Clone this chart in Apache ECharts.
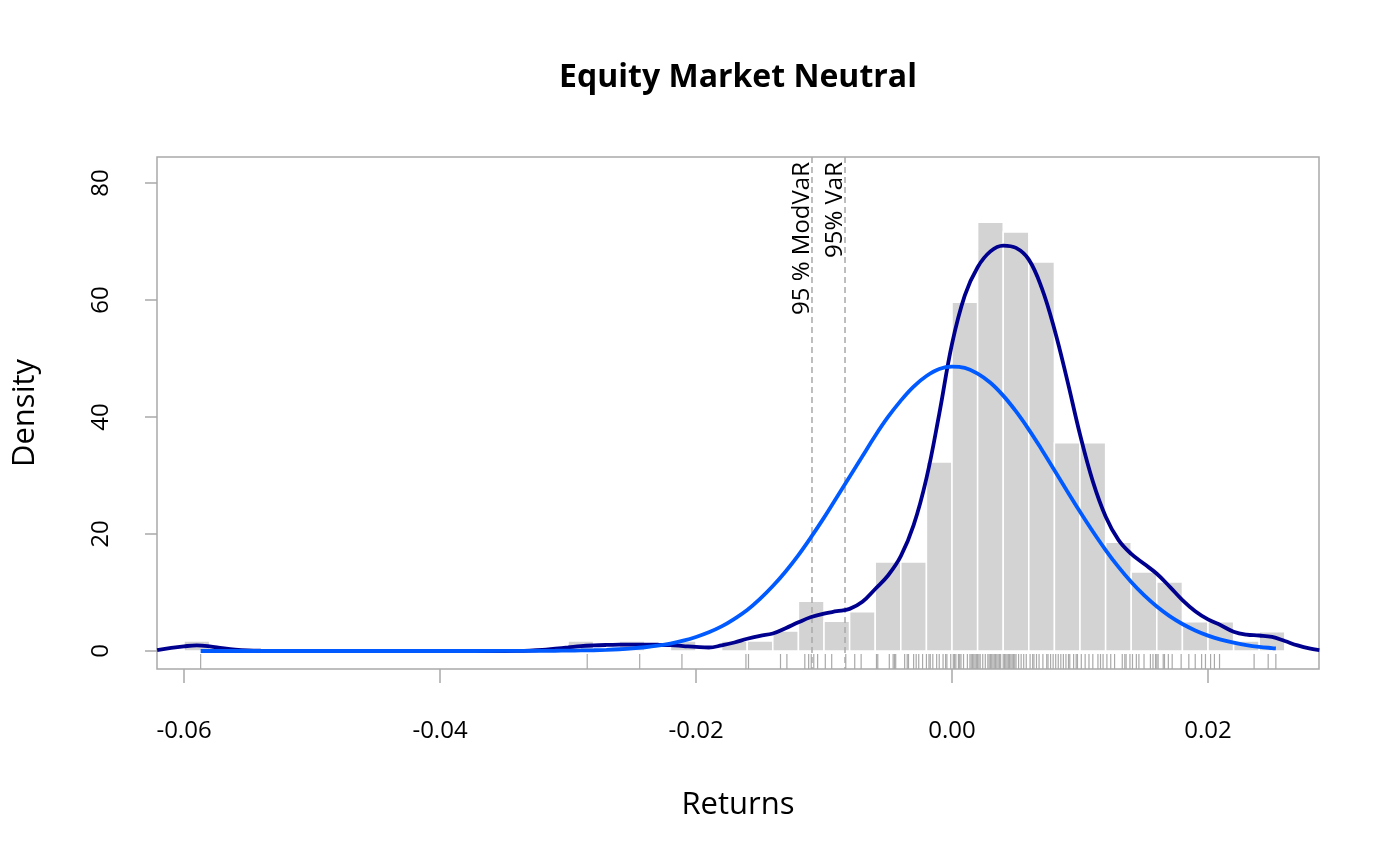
<!DOCTYPE html>
<html>
<head>
<meta charset="utf-8">
<script src="https://cdn.jsdelivr.net/npm/echarts@6/dist/echarts.min.js"></script>
<style>
 html,body{margin:0;padding:0;background:#fff;}
 #main{width:1400px;height:866px;}
</style>
</head>
<body>
<div id="main"></div>
<script type="text/javascript">
// histogram: left edge of each bin (width 0.002) and its density
var binLeft = [-0.060, -0.030, -0.026, -0.022, -0.018, -0.016, -0.014, -0.012, -0.010, -0.008,
               -0.006, -0.004, -0.002, 0.000, 0.002, 0.004, 0.006, 0.008, 0.010, 0.012,
               0.014, 0.016, 0.018, 0.020, 0.022, 0.024];
var binDensity = [1.71, 1.71, 1.71, 1.71, 1.71, 1.71, 3.4, 8.5, 5.1, 6.7,
                  15.2, 15.2, 32.3, 59.6, 73.3, 71.6, 66.5, 35.6, 35.6, 18.6,
                  13.5, 11.8, 5.0, 5.0, 1.7, 3.3];
var binWidth = 0.002;

// kernel density (dark blue)
var kdX = [-0.0621, -0.061, -0.060, -0.059, -0.058, -0.057, -0.056, -0.055, -0.054, -0.052,
           -0.050, -0.040, -0.035, -0.034, -0.033, -0.032, -0.031, -0.030, -0.029, -0.028,
           -0.027, -0.026, -0.025, -0.024, -0.023, -0.022, -0.021, -0.020, -0.019, -0.018,
           -0.017, -0.016, -0.015, -0.014, -0.013, -0.012, -0.011, -0.010, -0.009, -0.008,
           -0.007, -0.006, -0.005, -0.004, -0.003, -0.002, -0.001, 0.000, 0.001, 0.002,
           0.003, 0.004, 0.005, 0.006, 0.007, 0.008, 0.009, 0.010, 0.011, 0.012,
           0.013, 0.014, 0.015, 0.016, 0.017, 0.018, 0.019, 0.020, 0.021, 0.022,
           0.023, 0.024, 0.025, 0.026, 0.027, 0.028, 0.0287];
var kdY = [0.17, 0.55, 0.8, 0.95, 0.8, 0.5, 0.25, 0.1, 0.04, 0.01,
           0.0, 0.0, 0.0, 0.02, 0.08, 0.2, 0.4, 0.6, 0.82, 0.95,
           1.03, 1.08, 1.1, 1.1, 1.07, 1.0, 0.85, 0.7, 0.6, 0.95,
           1.45, 2.1, 2.6, 3.0, 3.9, 4.9, 5.8, 6.4, 6.8, 7.2,
           8.4, 10.6, 12.9, 16.2, 21.5, 29.5, 40.5, 52.5, 60.8, 65.6,
           68.3, 69.3, 68.9, 66.9, 62.1, 55.0, 46.3, 37.0, 29.0, 23.0,
           19.0, 16.6, 14.9, 13.2, 11.0, 8.7, 6.8, 5.4, 4.4, 3.3,
           2.8, 2.65, 2.4, 1.7, 0.95, 0.4, 0.15];

// fitted normal (bright blue)
var nX = [-0.0587, -0.050, -0.040, -0.035, -0.031, -0.030, -0.029, -0.028, -0.027, -0.026,
          -0.025, -0.024, -0.023, -0.022, -0.021, -0.020, -0.019, -0.018, -0.017, -0.016,
          -0.015, -0.014, -0.013, -0.012, -0.011, -0.010, -0.009, -0.008, -0.007, -0.006,
          -0.005, -0.004, -0.003, -0.002, -0.001, 0.000, 0.001, 0.002, 0.003, 0.004,
          0.005, 0.006, 0.007, 0.008, 0.009, 0.010, 0.011, 0.012, 0.013, 0.014,
          0.015, 0.016, 0.017, 0.018, 0.019, 0.020, 0.021, 0.022, 0.023, 0.024,
          0.025, 0.0253];
var nY = [0.0, 0.0, 0.0, 0.01, 0.04, 0.06, 0.09, 0.13, 0.2, 0.3,
          0.44, 0.64, 0.91, 1.27, 1.76, 2.4, 3.2, 4.2, 5.5, 7.0,
          8.9, 11.1, 13.6, 16.4, 19.5, 22.8, 26.3, 29.8, 33.3, 36.8,
          40.0, 42.8, 45.2, 47.0, 48.2, 48.6, 48.4, 47.4, 45.85, 43.65,
          40.95, 37.85, 34.46, 30.91, 27.32, 23.79, 20.42, 17.26, 14.37, 11.79,
          9.54, 7.6, 5.96, 4.61, 3.51, 2.63, 1.95, 1.42, 1.02, 0.72,
          0.5, 0.45];

// observed returns (rug)
var rugValues = [-0.0587, -0.0285, -0.0244, -0.0211, -0.0161, -0.0159, -0.0134, -0.0129,
  -0.0115, -0.0112, -0.0110, -0.0108, -0.0105, -0.0099, -0.0094, -0.0083, -0.0076, -0.0071,
  -0.0059, -0.0058, -0.0049, -0.0046, -0.0045, -0.0044, -0.0037, -0.0035, -0.0034, -0.0030,
  -0.0028, -0.0026, -0.0023, -0.0020, -0.0018, -0.0017, -0.0015, -0.0012, -0.0010, -0.0007,
  -0.0005, -0.0004, -0.0001, 0.0001, 0.0002, 0.0003, 0.0005, 0.0006, 0.0007, 0.0009,
  0.0012, 0.0014, 0.0015, 0.0016, 0.0017, 0.0018, 0.0019, 0.0020, 0.0021, 0.0022,
  0.0024, 0.0026, 0.0028, 0.0029, 0.0030, 0.0031, 0.0032, 0.0033, 0.0034, 0.0035,
  0.0036, 0.0037, 0.0038, 0.0040, 0.0041, 0.0042, 0.0043, 0.0044, 0.0045, 0.0046,
  0.0047, 0.0048, 0.0049, 0.0050, 0.0052, 0.0054, 0.0056, 0.0058, 0.0061, 0.0063,
  0.0064, 0.0066, 0.0068, 0.0071, 0.0074, 0.0075, 0.0077, 0.0079, 0.0081, 0.0083,
  0.0085, 0.0087, 0.0089, 0.0091, 0.0092, 0.0095, 0.0097, 0.0098, 0.0101, 0.0104,
  0.0107, 0.0110, 0.0114, 0.0116, 0.0118, 0.0121, 0.0124, 0.0127, 0.0133, 0.0135,
  0.0136, 0.0139, 0.0141, 0.0144, 0.0146, 0.0150, 0.0155, 0.0157, 0.0159, 0.0160,
  0.0161, 0.0165, 0.0166, 0.0169, 0.0172, 0.0179, 0.0185, 0.0190, 0.0195, 0.0198,
  0.0202, 0.0205, 0.0209, 0.0236, 0.0247, 0.0253];

// risk lines
var riskValues = [-0.01094, -0.00836];
var riskLabels = ['95 % ModVaR', '95% VaR'];

var xTicks = [-0.06, -0.04, -0.02, 0.00, 0.02];
var yTicks = [0, 20, 40, 60, 80];

var X_MIN = -0.06211, X_MAX = 0.02867;
var Y_MIN = -3.077, Y_MAX = 84.44;

var FONT = '"Open Sans", "Noto Sans", sans-serif';
var GREY = '#a9a9a9';

var histData = [];
for (var i = 0; i < binLeft.length; i++) {
	histData.push([binLeft[i], binLeft[i] + binWidth, binDensity[i]]);
}
var kdData = kdX.map(function (x, i) { return [x, kdY[i]]; });
var nData = nX.map(function (x, i) { return [x, nY[i]]; });
var rugData = rugValues.map(function (v) { return [v]; });
var riskData = riskValues.map(function (v, i) { return [v, riskLabels[i]]; });

var chart = echarts.init(document.getElementById('main'));
var option = {
	animation: false,
	backgroundColor: '#fff',
	grid: {
		left: 157, top: 157, width: 1162, height: 512,
		show: true, borderColor: GREY, borderWidth: 1.5, backgroundColor: 'transparent'
	},
	graphic: [
		{ type: 'text', style: { text: 'Equity Market Neutral', x: 738, y: 78, textAlign: 'center', textVerticalAlign: 'middle',
			font: 'bold 32px ' + FONT, fill: '#000' } },
		{ type: 'text', style: { text: 'Returns', x: 738, y: 805, textAlign: 'center', textVerticalAlign: 'middle',
			font: '31px ' + FONT, fill: '#000' } },
		{ type: 'text', x: 25, y: 413, rotation: Math.PI / 2,
			style: { text: 'Density', x: 0, y: 0, textAlign: 'center', textVerticalAlign: 'middle',
			font: '31px ' + FONT, fill: '#000' } }
	],
	xAxis: {
		type: 'value', min: X_MIN, max: X_MAX,
		axisLine: { show: false, onZero: false },
		splitLine: { show: false },
		axisTick: { show: true, length: 14, customValues: xTicks, lineStyle: { color: GREY, width: 1.5 } },
		axisLabel: { customValues: xTicks, margin: 50, color: '#000', fontSize: 24, fontFamily: FONT,
			formatter: function (v) { return v.toFixed(2); } }
	},
	yAxis: {
		type: 'value', min: Y_MIN, max: Y_MAX,
		axisLine: { show: false, onZero: false },
		splitLine: { show: false },
		axisTick: { show: true, length: 12, customValues: yTicks, lineStyle: { color: GREY, width: 1.5 } },
		axisLabel: { customValues: yTicks, margin: 44, rotate: 90, color: '#000', fontSize: 24, fontFamily: FONT }
	},
	series: [
		{
			name: 'hist', type: 'custom', z: 1,
			data: histData,
			encode: { x: [0, 1], y: 2 },
			renderItem: function (params, api) {
				var p0 = api.coord([api.value(0), api.value(2)]);
				var p1 = api.coord([api.value(1), 0]);
				return { type: 'rect',
					shape: { x: p0[0], y: p0[1], width: p1[0] - p0[0], height: p1[1] - p0[1] },
					style: { fill: '#d3d3d3', stroke: '#fff', lineWidth: 1.5 } };
			}
		},
		{
			name: 'rug', type: 'custom', z: 2,
			data: rugData,
			encode: { x: 0 },
			renderItem: function (params, api) {
				var cs = params.coordSys;
				var px = api.coord([api.value(0), 0])[0];
				var yb = cs.y + cs.height;
				return { type: 'line',
					shape: { x1: px, y1: yb, x2: px, y2: yb - 15 },
					style: { stroke: GREY, lineWidth: 1.2 } };
			}
		},
		{
			name: 'risk', type: 'custom', z: 3,
			data: riskData,
			encode: { x: 0 },
			renderItem: function (params, api) {
				var cs = params.coordSys;
				var px = api.coord([api.value(0), 0])[0];
				return { type: 'group', children: [
					{ type: 'line',
						shape: { x1: px, y1: cs.y, x2: px, y2: cs.y + cs.height },
						style: { stroke: GREY, lineWidth: 1.5, lineDash: [6, 4] } },
					{ type: 'text', x: px + 2, y: cs.y + 5, rotation: Math.PI / 2,
						style: { text: riskLabels[params.dataIndex], font: '24px ' + FONT, fill: '#000',
							textAlign: 'right', align: 'right', textVerticalAlign: 'bottom', verticalAlign: 'bottom' } }
				] };
			}
		},
		{
			name: 'density', type: 'line', z: 4,
			data: kdData, smooth: 0.4, showSymbol: false,
			lineStyle: { color: '#00008F', width: 3.8 }
		},
		{
			name: 'normal', type: 'line', z: 5,
			data: nData, smooth: 0.4, showSymbol: false,
			lineStyle: { color: '#005AFF', width: 3.8 }
		}
	]
};
chart.setOption(option);
</script>
</body>
</html>
